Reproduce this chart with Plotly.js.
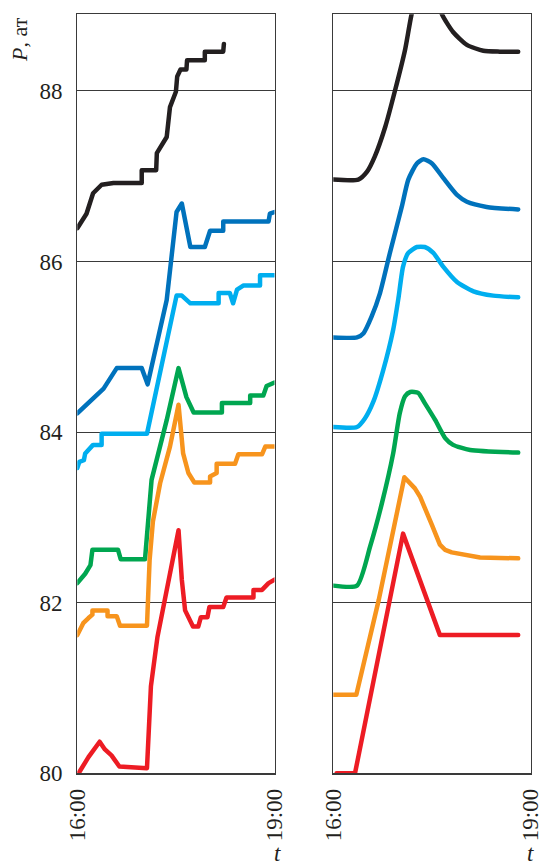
<!DOCTYPE html>
<html>
<head>
<meta charset="utf-8">
<script src="https://cdn.plot.ly/plotly-3.0.1.min.js"></script>
<style>
  html, body { margin: 0; padding: 0; background: #fff; }
  #chart { width: 539px; height: 867px; }
  .scatterlayer .js-line { stroke-linejoin: round !important; stroke-linecap: round !important; }
</style>
</head>
<body>
<div id="chart"></div>
<script>
// ---------- Data (time in hours, pressure P in at) ----------
// Left panel: measured pressures
const blackL_t = [16.0,16.14,16.24,16.37,16.55,16.98,16.98,17.20,17.21,17.36,17.41,17.50,17.52,17.57,17.66,17.67,17.94,17.94,18.22,18.23];
const blackL_p = [86.39,86.56,86.80,86.90,86.92,86.92,87.07,87.07,87.27,87.46,87.81,87.99,88.17,88.25,88.25,88.36,88.36,88.46,88.46,88.55];

const darkBlueL_t = [16.0,16.40,16.60,16.98,17.07,17.23,17.36,17.51,17.59,17.72,17.94,18.02,18.22,18.22,18.91,18.93,19.0];
const darkBlueL_p = [84.22,84.51,84.75,84.75,84.56,85.12,85.55,86.58,86.68,86.17,86.17,86.36,86.36,86.47,86.47,86.56,86.58];

const lightBlueL_t = [16.0,16.03,16.10,16.12,16.24,16.37,16.37,17.06,17.51,17.59,17.72,18.15,18.15,18.32,18.37,18.43,18.53,18.78,18.78,19.0];
const lightBlueL_p = [83.58,83.65,83.67,83.75,83.85,83.85,83.98,83.98,85.60,85.60,85.51,85.51,85.63,85.63,85.51,85.67,85.72,85.72,85.84,85.84];

const greenL_t = [16.0,16.12,16.20,16.23,16.62,16.66,17.03,17.13,17.36,17.54,17.66,17.77,18.20,18.20,18.63,18.63,18.83,18.88,19.0];
const greenL_p = [82.23,82.34,82.44,82.62,82.62,82.51,82.51,83.44,84.14,84.75,84.41,84.23,84.23,84.34,84.34,84.43,84.43,84.54,84.58];

const orangeL_t = [16.0,16.09,16.17,16.23,16.23,16.46,16.46,16.60,16.65,17.06,17.10,17.15,17.26,17.41,17.54,17.61,17.69,17.78,18.02,18.02,18.12,18.12,18.40,18.45,18.81,18.86,19.0];
const orangeL_p = [81.62,81.76,81.82,81.86,81.91,81.91,81.84,81.84,81.73,81.73,82.50,82.95,83.40,83.83,84.32,83.75,83.52,83.41,83.41,83.48,83.52,83.63,83.63,83.74,83.74,83.83,83.83];

const redL_t = [16.02,16.17,16.34,16.42,16.52,16.64,17.06,17.12,17.22,17.36,17.54,17.59,17.64,17.76,17.84,17.88,17.98,18.01,18.22,18.27,18.68,18.68,18.81,18.91,19.0];
const redL_p = [80.0,80.19,80.37,80.28,80.21,80.08,80.06,81.02,81.60,82.15,82.85,82.27,81.91,81.72,81.72,81.83,81.83,81.95,81.95,82.06,82.06,82.15,82.15,82.23,82.27];

// Right panel: modelled pressures
const blackR_t = [16.0,16.38,16.51,16.63,16.79,16.94,17.09,17.19,17.30,17.42,17.54,17.65,17.82,18.03,18.28,18.53,18.81];
const blackR_p = [86.96,86.96,87.05,87.23,87.58,88.01,88.48,88.90,89.20,89.32,89.20,88.90,88.69,88.54,88.47,88.46,88.46];

const darkBlueR_t = [16.0,16.36,16.46,16.58,16.71,16.86,17.04,17.14,17.27,17.37,17.50,17.67,17.88,18.03,18.33,18.81];
const darkBlueR_p = [85.11,85.11,85.16,85.35,85.63,86.10,86.64,86.96,87.15,87.20,87.15,86.98,86.78,86.70,86.64,86.61];

const lightBlueR_t = [16.0,16.36,16.48,16.61,16.76,16.91,16.99,17.06,17.14,17.27,17.39,17.52,17.67,17.88,18.13,18.43,18.81];
const lightBlueR_p = [84.06,84.06,84.16,84.36,84.73,85.20,85.57,85.94,86.10,86.17,86.17,86.10,85.94,85.76,85.65,85.60,85.58];

const greenR_t = [16.0,16.36,16.56,16.74,16.91,17.01,17.09,17.17,17.29,17.39,17.55,17.70,17.82,18.08,18.81];
const greenR_p = [82.20,82.20,82.66,83.17,83.75,84.22,84.42,84.47,84.46,84.34,84.14,83.93,83.85,83.79,83.76];

const orangeR_t = [16.0,16.35,16.69,17.08,17.24,17.32,17.50,17.62,17.70,17.80,18.23,18.81];
const orangeR_p = [80.92,80.92,82.03,83.47,83.34,83.24,82.91,82.68,82.62,82.59,82.53,82.52];

const redR_t = [16.05,16.33,17.06,17.62,18.81];
const redR_p = [80.0,80.0,82.81,81.62,81.62];

const xTickVals = [16, 19];
const xTickText = ['16:00', '19:00'];
const yTickVals = [80, 82, 84, 86, 88];

// ---------- Styles ----------
const C = {
  black: '#231f20', darkBlue: '#0072bc', lightBlue: '#00aeef',
  green: '#00a650', orange: '#f7941d', red: '#ed1c24'
};
const LW = 4.5;
const serif = 'Liberation Serif, Times New Roman, serif';

function tr(t, p, color, xa, ya, shape) {
  const line = { color: color, width: LW, shape: shape || 'linear' };
  if (shape === 'spline') line.smoothing = 0.6;
  return { x: t, y: p, xaxis: xa, yaxis: ya, type: 'scatter', mode: 'lines', line: line, hoverinfo: 'skip', showlegend: false };
}

const data = [
  tr(blackL_t, blackL_p, C.black, 'x', 'y'),
  tr(darkBlueL_t, darkBlueL_p, C.darkBlue, 'x', 'y'),
  tr(lightBlueL_t, lightBlueL_p, C.lightBlue, 'x', 'y'),
  tr(greenL_t, greenL_p, C.green, 'x', 'y'),
  tr(orangeL_t, orangeL_p, C.orange, 'x', 'y'),
  tr(redL_t, redL_p, C.red, 'x', 'y'),
  tr(blackR_t, blackR_p, C.black, 'x2', 'y2', 'spline'),
  tr(darkBlueR_t, darkBlueR_p, C.darkBlue, 'x2', 'y2', 'spline'),
  tr(lightBlueR_t, lightBlueR_p, C.lightBlue, 'x2', 'y2', 'spline'),
  tr(greenR_t, greenR_p, C.green, 'x2', 'y2', 'spline'),
  tr(orangeR_t, orangeR_p, C.orange, 'x2', 'y2'),
  tr(redR_t, redR_p, C.red, 'x2', 'y2')
];

const W = 539, H = 867;
const yDom = [(H - 773.3) / H, (H - 14.3) / H];
const yRange = [80, 88.898];

function xAxis(domain, anchor) {
  return {
    domain: domain, anchor: anchor, range: [16, 19],
    tickvals: xTickVals, ticktext: xTickText, tickangle: -90,
    ticks: '', ticklabelstandoff: 5, ticklabeloverflow: 'allow',
    showgrid: false, zeroline: false,
    showline: true, mirror: true, linecolor: '#3a3a3a', linewidth: 1.3,
    tickfont: { family: serif, size: 23, color: '#231f20' },
    automargin: false, fixedrange: true
  };
}
function yAxis(anchor, labels) {
  return {
    domain: yDom, anchor: anchor, range: yRange,
    tickvals: yTickVals, showticklabels: labels,
    ticks: '', ticklabelstandoff: 9, ticklabeloverflow: 'allow',
    showgrid: true, gridcolor: '#3a3a3a', gridwidth: 1.1,
    zeroline: false,
    showline: true, mirror: true, linecolor: '#3a3a3a', linewidth: 1.3,
    tickfont: { family: serif, size: 23, color: '#231f20' },
    automargin: false, fixedrange: true
  };
}

const layout = {
  width: W, height: H,
  margin: { l: 0, r: 0, t: 0, b: 0 },
  paper_bgcolor: '#fff', plot_bgcolor: '#fff',
  showlegend: false,
  xaxis: xAxis([77.3 / W, 274.5 / W], 'y'),
  yaxis: yAxis('x', true),
  xaxis2: xAxis([333.3 / W, 530.7 / W], 'y2'),
  yaxis2: yAxis('x2', false),
  annotations: [
    { text: '<i>P</i>, ат', xref: 'paper', yref: 'paper', x: 20 / W, y: (H - 40) / H,
      xanchor: 'center', yanchor: 'middle', textangle: -90, showarrow: false,
      font: { family: serif, size: 22, color: '#231f20' } },
    { text: '<i>t</i>', xref: 'paper', yref: 'paper', x: 277 / W, y: (H - 853) / H,
      xanchor: 'center', yanchor: 'middle', showarrow: false,
      font: { family: serif, size: 23, color: '#231f20' } },
    { text: '<i>t</i>', xref: 'paper', yref: 'paper', x: 530 / W, y: (H - 853) / H,
      xanchor: 'center', yanchor: 'middle', showarrow: false,
      font: { family: serif, size: 23, color: '#231f20' } }
  ]
};

Plotly.newPlot('chart', data, layout, { staticPlot: true, displayModeBar: false });
</script>
</body>
</html>
